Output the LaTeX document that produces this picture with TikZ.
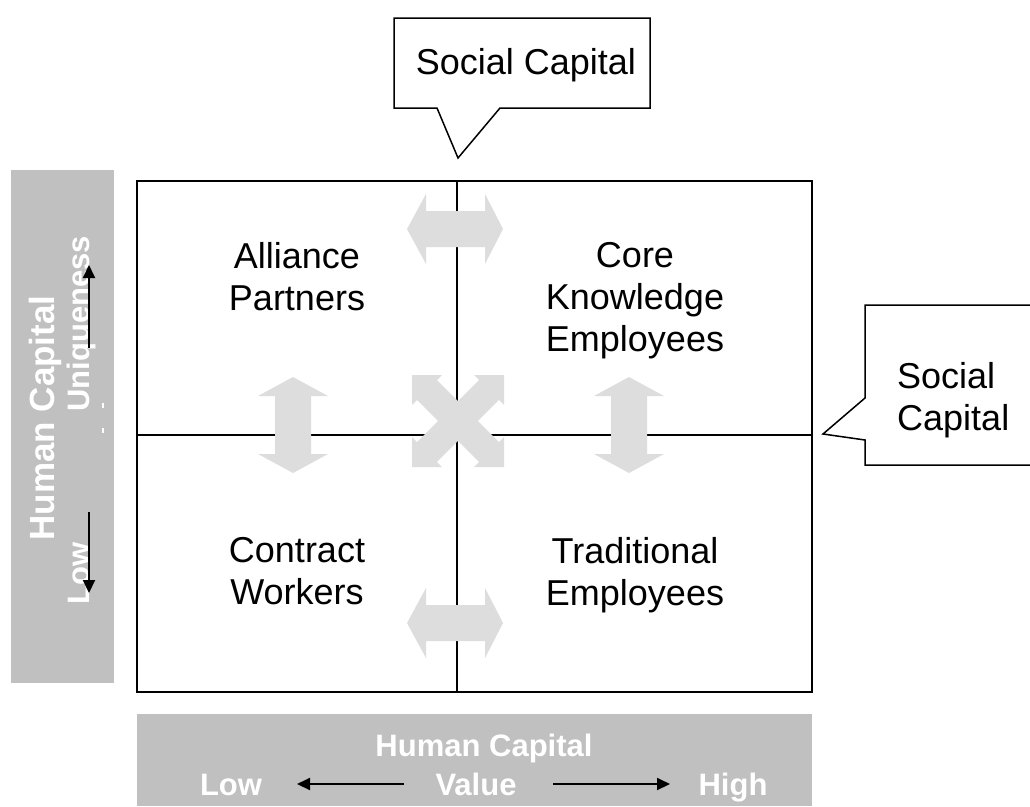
\documentclass[tikz,border=0pt]{standalone}
\usepackage{fontspec}
\setmainfont{Liberation Sans}
\usetikzlibrary{arrows.meta}
\definecolor{barGrey}{HTML}{C0C0C0}
\definecolor{arrGrey}{HTML}{DDDDDD}
\begin{document}
\begin{tikzpicture}[x=1pt,y=-1pt,
  lbl/.style={font=\fontsize{36}{42}\selectfont, align=center, inner sep=0pt},
  axlbl/.style={font=\bfseries\fontsize{31}{36}\selectfont, text=white, inner sep=0pt},
  axlblbig/.style={font=\bfseries\fontsize{35}{40}\selectfont, text=white, inner sep=0pt},
  axarrow/.style={line width=2pt, -{Triangle[length=13pt,width=12pt]}},
  gridline/.style={line width=2pt},
  callout/.style={draw=black, line width=1.5pt, fill=white},
  garrow/.style={fill=arrGrey, draw=none}]
\useasboundingbox (0,0) rectangle (1030,806);
\fill[white] (0,0) rectangle (1030,806);

% grey axis bars
\fill[barGrey] (11,170) rectangle (114,683);
\fill[barGrey] (137,714) rectangle (812,806);

% main grid
\coordinate (TL) at (137,181);
\coordinate (BR) at (812,692);
\coordinate (vt) at (457,181);
\coordinate (vb) at (457,692);
\coordinate (hl) at (137,435);
\coordinate (hr) at (812,435);
\draw[gridline] (TL) rectangle (BR);
\draw[gridline] (vt) -- (vb);
\draw[gridline] (hl) -- (hr);

% callouts
\draw[callout] (394,18) -- (650,18) -- (650,108) -- (500,108) -- (458,158) -- (437,108) -- (394,108) -- cycle;
\node[lbl, anchor=base] (scTop) at (526,74) {Social Capital};
\begin{scope}
\clip (0,0) rectangle (1030,806);
\draw[callout] (865,305) -- (1045,305) -- (1045,465) -- (865,465) -- (865,440) -- (823,434) -- (865,398) -- cycle;
\end{scope}
\node[lbl, align=left, anchor=north west] (scRight) at (897,362) {Social\\Capital};

% quadrant labels
\node[lbl, anchor=north] (q1) at (297,242) {Alliance\\Partners};
\node[lbl, anchor=north] (q2) at (635,242) {Core\\Knowledge\\Employees};
\node[lbl, anchor=north] (q3) at (297,537) {Contract\\Workers};
\node[lbl, anchor=north] (q4) at (635,537) {Traditional\\Employees};

% grey block arrows
\fill[garrow] (407,229) -- (426,194) -- (426,211) -- (485,211) -- (485,194) -- (503,229) -- (485,264) -- (485,247) -- (426,247) -- (426,264) -- cycle;
\fill[garrow] (407,623) -- (426,588) -- (426,605) -- (485,605) -- (485,588) -- (503,623) -- (485,658) -- (485,641) -- (426,641) -- (426,658) -- cycle;
\fill[garrow] (293,377) -- (328,396) -- (311,396) -- (311,454) -- (328,454) -- (293,473) -- (258,454) -- (275,454) -- (275,396) -- (258,396) -- cycle;
\fill[garrow] (629,377) -- (664,396) -- (647,396) -- (647,454) -- (664,454) -- (629,473) -- (594,454) -- (611,454) -- (611,396) -- (594,396) -- cycle;
\fill[garrow, shift={(458,421)}] (0,-19.8) -- (21.1,-40.9) -- (16,-46) -- (46,-46) -- (46,-16) -- (40.9,-21.1) -- (19.8,0) -- (40.9,21.1) -- (46,16) -- (46,46) -- (16,46) -- (21.1,40.9) -- (0,19.8) -- (-21.1,40.9) -- (-16,46) -- (-46,46) -- (-46,16) -- (-40.9,21.1) -- (-19.8,0) -- (-40.9,-21.1) -- (-46,-16) -- (-46,-46) -- (-16,-46) -- (-21.1,-40.9) -- cycle;

% left axis
\node[axlblbig, rotate=90, anchor=base] (hcL) at (54,418) {Human Capital};
\node[axlbl, rotate=90, anchor=base west] (uniq) at (89,412) {Uniqueness};
\node[axlbl, rotate=90, anchor=base west] (lowL) at (89,605) {Low};
\fill[white] (102,403) rectangle (104,408);
\fill[white] (102,428) rectangle (104,433);
\coordinate (upT) at (89,348);
\coordinate (upH) at (89,265);
\coordinate (dnT) at (89,512);
\coordinate (dnH) at (89,593);
\draw[axarrow] (upT) -- (upH);
\draw[axarrow] (dnT) -- (dnH);

% bottom axis
\node[axlbl, anchor=base] (hcB) at (484,756) {Human Capital};
\node[axlbl, anchor=base] (lowB) at (231,795) {Low};
\node[axlbl, anchor=base] (valB) at (476,795) {Value};
\node[axlbl, anchor=base] (highB) at (733,795) {High};
\coordinate (lT) at (404,784);
\coordinate (lH) at (297,784);
\coordinate (rT) at (553,784);
\coordinate (rH) at (670,784);
\draw[axarrow] (lT) -- (lH);
\draw[axarrow] (rT) -- (rH);
\end{tikzpicture}
\end{document}
